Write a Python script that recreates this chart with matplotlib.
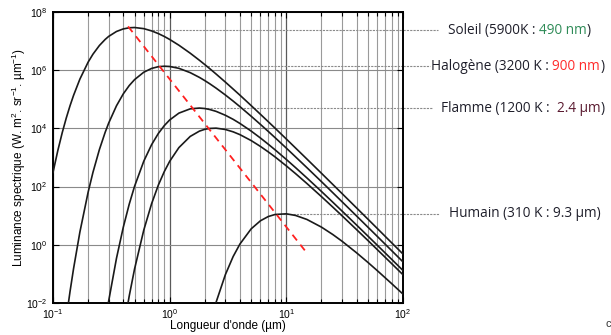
import numpy as np
import matplotlib
matplotlib.use("Agg")
import matplotlib.pyplot as plt
from matplotlib.ticker import LogLocator, NullLocator, NullFormatter, FixedLocator

plt.rcParams["font.family"] = ["Liberation Sans", "DejaVu Sans"]
plt.rcParams["mathtext.fontset"] = "custom"
plt.rcParams["mathtext.rm"] = "Liberation Sans"
plt.rcParams["mathtext.it"] = "Liberation Sans:italic"

nan = np.nan

# longueur d'onde (µm)
lam = [0.1, 0.11, 0.12, 0.13, 0.14, 0.15, 0.17, 0.2, 0.22, 0.25, 0.28, 0.3, 0.35, 0.4, 0.45,
       0.5, 0.6, 0.7, 0.8, 0.9, 1.0, 1.2, 1.5, 1.8, 2.0, 2.2, 2.5, 3.0, 3.5, 4.0, 5.0, 6.0,
       7.0, 8.0, 10, 12, 15, 20, 25, 30, 40, 50, 60, 80, 100]

# luminance spectrique (W.m-2.sr-1.µm-1)
soleil = [306, 1.74e3, 7.15e3, 2.29e4, 6.03e4, 1.36e5, 4.94e5, 1.89e6, 3.55e6, 7.08e6,
          1.14e7, 1.45e7, 2.14e7, 2.62e7, 2.87e7, 2.93e7, 2.68e7, 2.24e7, 1.81e7, 1.44e7,
          1.14e7, 7.22e6, 3.84e6, 2.19e6, 1.56e6, 1.14e6, 7.38e5, 3.91e5, 2.25e5, 1.39e5,
          6.06e4, 3.05e4, 1.7e4, 1.02e4, 4.31e3, 2.12e3, 888, 287, 119, 57.9,
          18.5, 7.63, 3.69, 1.17, 0.482]
halogene = [nan, nan, nan, 0.00306, 0.025, 0.151, 2.74, 64.2, 308, 1.89e3,
            7.35e3, 1.52e4, 5.98e4, 1.53e5, 2.96e5, 4.74e5, 8.53e5, 1.15e6, 1.32e6, 1.37e6,
            1.34e6, 1.16e6, 8.24e5, 5.65e5, 4.39e5, 3.44e5, 2.42e5, 1.41e5, 8.68e4, 5.6e4,
            2.61e4, 1.37e4, 7.87e3, 4.82e3, 2.1e3, 1.05e3, 449, 148, 61.9, 30.3,
            9.78, 4.05, 1.97, 0.629, 0.259]
flamme_vive = [nan, nan, nan, nan, nan, nan, nan, nan, nan, nan,
               0.00207, 0.0117, 0.343, 3.96, 24.8, 102, 747, 2.76e3, 6.71e3, 1.25e4,
               1.95e4, 3.35e4, 4.7e4, 5e4, 4.82e4, 4.47e4, 3.85e4, 2.83e4, 2.05e4, 1.48e4,
               8.07e3, 4.67e3, 2.86e3, 1.84e3, 856, 448, 199, 68.1, 29.2, 14.5,
               4.78, 2, 0.979, 0.316, 0.131]
flamme = [nan, nan, nan, nan, nan, nan, nan, nan, nan, nan,
          nan, nan, nan, 0.00112, 0.0173, 0.147, 3.21, 25.8, 113, 330,
          739, 2.19e3, 5.3e3, 8.08e3, 9.3e3, 9.97e3, 1.02e4, 9.18e3, 7.62e3, 6.11e3,
          3.81e3, 2.4e3, 1.56e3, 1.05e3, 514, 279, 128, 45.3, 19.8, 9.98,
          3.33, 1.41, 0.692, 0.225, 0.0935]
humain = [nan, nan, nan, nan, nan, nan, nan, nan, nan, nan,
          nan, nan, nan, nan, nan, nan, nan, nan, nan, nan,
          nan, nan, nan, nan, nan, 0.00159, 0.0106, 0.0936, 0.395, 1.06,
          3.55, 6.7, 9.36, 11, 11.6, 10.2, 7.44, 4.05, 2.26, 1.33,
          0.531, 0.249, 0.131, 0.0462, 0.0202]

# droite des maxima (loi de Wien)
wien_lam = [0.44, 14.7]
wien_val = [3.2e7, 0.58]

# repères horizontaux vers les étiquettes : niveau, début (µm)
repere_niv = [2.35e7, 1.37e6, 5.0e4, 11.7]
repere_deb = [0.67, 0.9, 1.5, 9.3]

etiquettes = [
    [("Soleil (5900K : ", "#1e1e2a"), ("490 nm", "#2e8b57"), (")", "#1e1e2a")],
    [("Halogène (3200 K : ", "#1e1e2a"), ("900 nm", "#ff2a2a"), (")", "#1e1e2a")],
    [("Flamme (1200 K :  ", "#1e1e2a"), ("2.4 µm", "#5a1a30"), (")", "#1e1e2a")],
    [("Humain (310 K : 9.3 µm)", "#1e1e2a")],
]
fin_trait = [1.100, 1.077, 1.083, 1.103]
debut_txt = [1.129, 1.080, 1.109, 1.131]

x_ticks = [0.1, 1, 10, 100]
y_ticks = [1e-2, 1, 1e2, 1e4, 1e6, 1e8]

fig = plt.figure(figsize=(6.11, 3.35), dpi=100)
ax = fig.add_axes([53 / 611, 32 / 335, 350 / 611, 291 / 335])
ax.set_xscale("log")
ax.set_yscale("log")
ax.set_xlim(0.1, 100)
ax.set_ylim(1e-2, 1e8)

ax.xaxis.set_major_locator(FixedLocator(x_ticks))
ax.xaxis.set_minor_locator(FixedLocator([m * d for d in x_ticks[:-1] for m in range(2, 10)]))
ax.xaxis.set_minor_formatter(NullFormatter())
ax.yaxis.set_major_locator(FixedLocator(y_ticks))
ax.yaxis.set_minor_locator(NullLocator())
ax.grid(True, which="minor", axis="x", color="#9a9a9a", lw=0.8)
ax.grid(True, which="major", axis="x", color="#5a5a5a", lw=0.9)
ax.grid(True, which="major", axis="y", color="#8a8a8a", lw=0.8)
ax.tick_params(which="both", direction="in", top=True, right=True, labelsize=7.5)
ax.tick_params(axis="x", pad=3)
ax.tick_params(axis="y", pad=4)
ax.tick_params(which="major", length=4, width=0.8)
ax.tick_params(which="minor", length=3, width=0.8)
for s in ax.spines.values():
    s.set_linewidth(1.4)

for serie in [soleil, halogene, flamme_vive, flamme, humain]:
    ax.plot(lam, serie, color="#1a1a1a", lw=1.2, zorder=3)

ax.plot(wien_lam, wien_val, color="#ff2020", lw=1.3, dashes=(4, 3), zorder=4)

trans = ax.get_yaxis_transform()
for niv, deb, fin, x0, morceaux in zip(repere_niv, repere_deb, fin_trait, debut_txt, etiquettes):
    ax.plot([deb, 100], [niv, niv], color="#8a8a8a", lw=0.8, ls=(0, (2, 1)), zorder=2)
    ax.plot([1, fin], [niv, niv], color="#8a8a8a", lw=0.8, ls=(0, (2, 1)),
            transform=trans, clip_on=False)
    txt, coul = morceaux[0]
    t = ax.text(x0, niv, txt, transform=trans, color=coul, fontsize=9.8,
                family="Open Sans", va="center", ha="left")
    for txt, coul in morceaux[1:]:
        t = ax.annotate(txt, xy=(1, 0), xycoords=t, va="bottom", ha="left",
                        color=coul, fontsize=9.8, family="Open Sans")

ax.set_xlabel("Longueur d'onde (µm)", fontsize=8.5, labelpad=-1)
ax.set_ylabel("Luminance spectrique (W. m$^{2}$. sr$^{-1}$. µm$^{-1}$)", fontsize=8.5)
ax.yaxis.set_label_coords(-0.072, 0.5)
fig.text(606 / 611, 8 / 335, "c", fontsize=8, color="#333333")

fig.savefig("out.png", dpi=100)
